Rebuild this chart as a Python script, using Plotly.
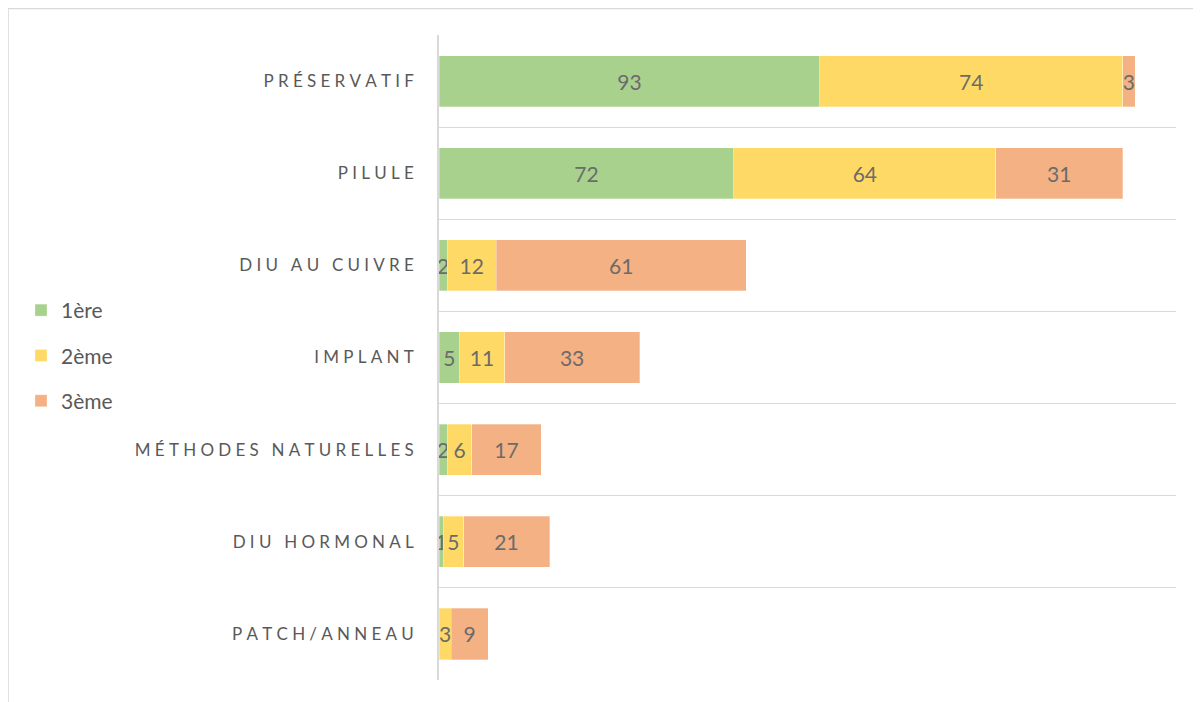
import plotly.graph_objects as go

categories = ["PRÉSERVATIF", "PILULE", "DIU AU CUIVRE", "IMPLANT",
              "MÉTHODES NATURELLES", "DIU HORMONAL", "PATCH/ANNEAU"]
series_names = ["1ère", "2ème", "3ème"]
v1 = [93, 72, 2, 5, 2, 1, 0]
v2 = [74, 64, 12, 11, 6, 5, 3]
v3 = [3, 31, 61, 33, 17, 21, 9]
colors = ["#A9D18E", "#FFD966", "#F4B183"]

SP = "\u2005"
def spaced(s):
    return SP.join(list(s))

labels = [spaced(c) for c in categories]

W, H = 1201, 702
OFF = 8  # page body margin
L, R, T, B = 439 - OFF, W - (1176 - OFF), 35 - OFF, H - (680 - OFF)
pw, ph = W - L - R, H - T - B

fig = go.Figure()
for name, vals, col in zip(series_names, [v1, v2, v3], colors):
    fig.add_trace(go.Bar(
        y=labels, x=vals, name=name, orientation="h",
        marker=dict(color=col, line=dict(color="rgba(255,255,255,0.6)", width=0.5)),
        text=[str(v) if v else "" for v in vals],
        textposition="inside", insidetextanchor="middle",
        constraintext="none", cliponaxis=False,
        textfont=dict(family="Lato", size=21, color="#6b6b6b"),
        width=0.555, legendgroup=name,
    ))

fig.update_layout(
    width=W, height=H, barmode="stack",
    margin=dict(l=L, r=R, t=T, b=B, pad=0),
    paper_bgcolor="white", plot_bgcolor="white",
    font=dict(family="Lato", color="#595959"),
    legend=dict(x=(13 - L) / pw, xanchor="left", y=(672 - 282) / ph, yanchor="top",
                traceorder="grouped", tracegroupgap=15,
                font=dict(family="Lato", size=21, color="#595959")),
    xaxis=dict(range=[0, 180], showticklabels=False, showgrid=False, zeroline=False,
               showline=False, fixedrange=True),
    yaxis=dict(type="category", autorange="reversed", tickson="boundaries",
               showgrid=True, gridcolor="#d9d9d9", gridwidth=1.3,
               showline=True, linecolor="#d9d9d9", linewidth=1.5,
               ticks="", ticklabelstandoff=20,
               tickfont=dict(family="Lato", size=17, color="#595959")),
    shapes=[dict(type="rect", xref="paper", yref="paper",
                 x0=(0 - L) / pw, x1=(1230 - L) / pw,
                 y0=-(40) / ph, y1=1 + (T - 0.5) / ph,
                 line=dict(color="#d9d9d9", width=1.5), fillcolor="rgba(0,0,0,0)", layer="below")],
)

fig.write_html("out.html")
